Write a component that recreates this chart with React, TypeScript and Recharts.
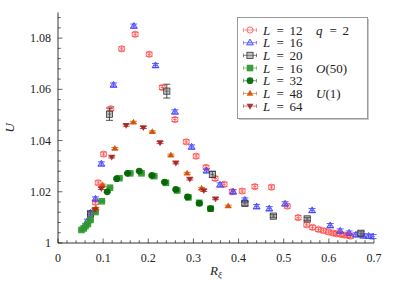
import React from 'react';
import { ScatterChart, Scatter, XAxis, YAxis, ErrorBar, Legend } from 'recharts';

const FONT = '"Liberation Serif", "DejaVu Serif", serif';

// ---- axis ticks ----
const xMajorTicks = [0, 0.1, 0.2, 0.3, 0.4, 0.5, 0.6, 0.7];
const xTickLabels = ['0', '0.1', '0.2', '0.3', '0.4', '0.5', '0.6', '0.7'];
const yMajorTicks = [1, 1.02, 1.04, 1.06, 1.08];
const yTickLabels = ['1', '1.02', '1.04', '1.06', '1.08'];
const xAllTicks = Array.from({ length: 36 }, (_, i) => +(i * 0.02).toFixed(2));
const yAllTicks = Array.from({ length: 23 }, (_, i) => +(1 + i * 0.004).toFixed(3));

// ---- legend text ----
const legendSizes = ['12', '16', '20', '16', '32', '48', '64'];
const legendGroups = ['q = 2', '', '', 'O(50)', '', 'U(1)', ''];

// ---- series: q = 2 ----
const q2L12X = [0.083, 0.089, 0.101, 0.117, 0.141, 0.171, 0.202, 0.231, 0.259, 0.284, 0.306, 0.328, 0.348, 0.368, 0.386, 0.408, 0.436, 0.473, 0.508, 0.532, 0.551, 0.564, 0.577, 0.588, 0.599, 0.609, 0.617, 0.626, 0.634, 0.642, 0.648];
const q2L12Y = [1.0159, 1.0235, 1.0347, 1.0524, 1.0758, 1.0815, 1.0737, 1.0607, 1.0482, 1.0395, 1.0339, 1.0295, 1.0252, 1.0229, 1.0200, 1.0203, 1.0220, 1.0218, 1.0144, 1.0099, 1.0071, 1.0061, 1.0053, 1.0048, 1.0043, 1.0039, 1.0036, 1.0034, 1.0031, 1.0030, 1.0027];
const q2L12E = 0.0008;

const q2L16X = [0.065, 0.072, 0.083, 0.096, 0.123, 0.168, 0.216, 0.259, 0.296, 0.329, 0.359, 0.388, 0.414, 0.440, 0.468, 0.503, 0.563, 0.603, 0.625, 0.645, 0.660, 0.676, 0.688, 0.698];
const q2L16Y = [1.0085, 1.0118, 1.0172, 1.0309, 1.0617, 1.0847, 1.0693, 1.0512, 1.0375, 1.0282, 1.0227, 1.0200, 1.0168, 1.0142, 1.0134, 1.0153, 1.0127, 1.0068, 1.0047, 1.0039, 1.0032, 1.0028, 1.0027, 1.0025];
const q2L16E = 0.0008;

const q2L20X = [0.072, 0.114, 0.241, 0.342, 0.414, 0.477, 0.552, 0.671];
const q2L20Y = [1.0113, 1.0503, 1.0593, 1.0268, 1.0155, 1.0105, 1.0094, 1.0038];
const q2L20E = [0.0008, 0.0024, 0.0027, 0.0012, 0.0008, 0.0006, 0.0006, 0.0008];

// ---- series: O(50) ----
const o50L16X = [0.052, 0.057, 0.061, 0.066, 0.072, 0.083, 0.097, 0.115, 0.136, 0.160, 0.185, 0.213, 0.239, 0.264, 0.289, 0.313, 0.338];
const o50L16Y = [1.0051, 1.0057, 1.0066, 1.0074, 1.0090, 1.0121, 1.0163, 1.0216, 1.0253, 1.0272, 1.0272, 1.0261, 1.0235, 1.0205, 1.0178, 1.0157, 1.0134];
const o50L16E = 0.0003;

const o50L32X = [0.109, 0.130, 0.154, 0.180, 0.208, 0.236, 0.261, 0.287, 0.313, 0.338];
const o50L32Y = [1.0200, 1.0251, 1.0272, 1.0281, 1.0264, 1.0238, 1.0209, 1.0180, 1.0155, 1.0134];
const o50L32E = 0.0003;

// ---- series: U(1) ----
const u1L48X = [0.084, 0.099, 0.126, 0.167, 0.209, 0.250, 0.286, 0.318, 0.377];
const u1L48Y = [1.0135, 1.0226, 1.0369, 1.0471, 1.0434, 1.0343, 1.0272, 1.0213, 1.0144];
const u1L48E = 0.0004;

const u1L64X = [0.082, 0.096, 0.119, 0.151, 0.189, 0.226, 0.261, 0.292, 0.323, 0.349];
const u1L64Y = [1.0131, 1.0213, 1.0336, 1.0460, 1.0451, 1.0392, 1.0313, 1.0250, 1.0205, 1.0173];
const u1L64E = 0.0004;

const X_ERR = 0.004;

type Kind = 'circle' | 'triOpen' | 'sqOpen' | 'sq' | 'dot' | 'triUp' | 'triDown';

const build = (xs: number[], ys: number[], e: number | number[]) =>
  xs.map((x, i) => ({ x, y: ys[i], ey: Array.isArray(e) ? e[i] : e, ex: X_ERR }));

const seriesList: { data: any[]; kind: Kind; color: string; bar: string }[] = [
  { data: build(q2L12X, q2L12Y, q2L12E), kind: 'circle', color: '#ff4646', bar: '#ff4646' },
  { data: build(q2L16X, q2L16Y, q2L16E), kind: 'triOpen', color: '#3a3aff', bar: '#3a3aff' },
  { data: build(q2L20X, q2L20Y, q2L20E), kind: 'sqOpen', color: '#333333', bar: '#222222' },
  { data: build(o50L16X, o50L16Y, o50L16E), kind: 'sq', color: '#2f972f', bar: '#2f972f' },
  { data: build(o50L32X, o50L32Y, o50L32E), kind: 'dot', color: '#006400', bar: '#006400' },
  { data: build(u1L48X, u1L48Y, u1L48E), kind: 'triUp', color: '#d05000', bar: '#d05000' },
  { data: build(u1L64X, u1L64Y, u1L64E), kind: 'triDown', color: '#a82222', bar: '#a82222' },
];

function Mark({ kind, cx, cy, color }: { kind: Kind; cx: number; cy: number; color: string }) {
  if (cx == null || cy == null) return null;
  switch (kind) {
    case 'circle':
      return <circle cx={cx} cy={cy} r={3.1} fill="rgba(255,90,90,0.08)" stroke={color} strokeWidth={0.9} strokeOpacity={0.85} />;
    case 'triOpen': {
      const s = 3.6;
      return (
        <polygon
          points={`${cx},${cy - s} ${cx + s * 0.95},${cy + s * 0.62} ${cx - s * 0.95},${cy + s * 0.62}`}
          fill="rgba(80,80,255,0.3)" stroke={color} strokeWidth={0.9} strokeOpacity={0.9}
        />
      );
    }
    case 'sqOpen':
      return <rect x={cx - 3.1} y={cy - 3.1} width={6.2} height={6.2} fill="rgba(120,120,120,0.45)" stroke={color} strokeWidth={0.8} />;
    case 'sq':
      return <rect x={cx - 3.3} y={cy - 3.3} width={6.6} height={6.6} fill={color} fillOpacity={0.92} />;
    case 'dot':
      return <circle cx={cx} cy={cy} r={3.4} fill={color} fillOpacity={0.92} />;
    case 'triUp': {
      const s = 3.6;
      return <polygon points={`${cx},${cy - s} ${cx + s * 0.95},${cy + s * 0.62} ${cx - s * 0.95},${cy + s * 0.62}`} fill={color} fillOpacity={0.9} />;
    }
    case 'triDown': {
      const s = 3.6;
      return <polygon points={`${cx},${cy + s} ${cx + s * 0.95},${cy - s * 0.62} ${cx - s * 0.95},${cy - s * 0.62}`} fill={color} fillOpacity={0.9} />;
    }
  }
  return null;
}

const near = (v: number, arr: number[]) => arr.findIndex((a) => Math.abs(a - v) < 1e-6);

const BottomTick = (props: any) => {
  const { x, y, payload } = props;
  const idx = near(payload.value, xMajorTicks);
  const major = idx >= 0;
  return (
    <g>
      <line x1={x} x2={x} y1={y} y2={y - (major ? 4.5 : 2.8)} stroke="#000" strokeWidth={0.6} />
      {major && (
        <text x={x} y={y + 18.5} textAnchor="middle" fontFamily={FONT} fontSize={12} fill="#222">
          {xTickLabels[idx]}
        </text>
      )}
    </g>
  );
};

const TopTick = (props: any) => {
  const { x, y, payload } = props;
  const major = near(payload.value, xMajorTicks) >= 0;
  return <line x1={x} x2={x} y1={y} y2={y + (major ? 4.5 : 2.8)} stroke="#000" strokeWidth={0.6} />;
};

const LeftTick = (props: any) => {
  const { x, y, payload } = props;
  const idx = near(payload.value, yMajorTicks);
  const major = idx >= 0;
  return (
    <g>
      <line x1={x} x2={x + (major ? 4.5 : 2.8)} y1={y} y2={y} stroke="#000" strokeWidth={0.6} />
      {major && (
        <text x={x - 7} y={y + 4} textAnchor="end" fontFamily={FONT} fontSize={12} fill="#222">
          {yTickLabels[idx]}
        </text>
      )}
    </g>
  );
};

const RightTick = (props: any) => {
  const { x, y, payload } = props;
  const major = near(payload.value, yMajorTicks) >= 0;
  return <line x1={x} x2={x - (major ? 4.5 : 2.8)} y1={y} y2={y} stroke="#000" strokeWidth={0.6} />;
};

const XLabel = (props: any) => {
  const vb = props.viewBox || { x: 58, y: 243, width: 316 };
  const cx = vb.x + vb.width / 2;
  return (
    <text x={cx - 6} y={vb.y + 32} fontFamily={FONT} fontSize={13} fill="#222">
      <tspan fontStyle="italic">R</tspan>
      <tspan fontSize={9} fontStyle="italic" dy={2.5}>ξ</tspan>
    </text>
  );
};

const YLabel = (props: any) => {
  const vb = props.viewBox || { x: 0, y: 12.5, width: 58, height: 230.5 };
  const cy = vb.y + vb.height / 2;
  const cx = 9.5;
  return (
    <text x={cx} y={cy} transform={`rotate(-90 ${cx} ${cy})`} textAnchor="middle" dy="0.35em" fontFamily={FONT} fontStyle="italic" fontSize={13} fill="#222">
      U
    </text>
  );
};

const LegendBox = () => {
  const rowH = 12.68;
  const W = 130;
  const H = 101;
  return (
    <svg width={W + 3} height={H + 3} style={{ display: 'block' }}>
      <rect x={2} y={2} width={W} height={H} fill="#c8c8c8" />
      <rect x={0.5} y={0.5} width={W} height={H} fill="#fff" stroke="#9a9a9a" strokeWidth={1} />
      {seriesList.map((s, i) => {
        const cy = 13 + i * rowH;
        const by = cy + 4.5;
        return (
          <g key={i}>
            <line x1={6.5} x2={19.5} y1={cy} y2={cy} stroke={s.bar} strokeWidth={0.7} strokeOpacity={0.8} />
            <line x1={6.5} x2={6.5} y1={cy - 1.8} y2={cy + 1.8} stroke={s.bar} strokeWidth={0.7} strokeOpacity={0.8} />
            <line x1={19.5} x2={19.5} y1={cy - 1.8} y2={cy + 1.8} stroke={s.bar} strokeWidth={0.7} strokeOpacity={0.8} />
            <Mark kind={s.kind} cx={13} cy={cy} color={s.color} />
            <text x={26} y={by} fontFamily={FONT} fontSize={13} fill="#222">
              <tspan fontStyle="italic">L</tspan>
              <tspan x={39.5}>=</tspan>
              <tspan x={52.5}>{legendSizes[i]}</tspan>
            </text>
            {legendGroups[i] === 'q = 2' && (
              <text x={79} y={by} fontFamily={FONT} fontSize={13} fill="#222">
                <tspan fontStyle="italic">q</tspan>
                <tspan x={92.5}>=</tspan>
                <tspan x={105.5}>2</tspan>
              </text>
            )}
            {legendGroups[i] === 'O(50)' && (
              <text x={79} y={by} fontFamily={FONT} fontSize={13} fill="#222">
                <tspan fontStyle="italic">O</tspan>(50)
              </text>
            )}
            {legendGroups[i] === 'U(1)' && (
              <text x={79} y={by} fontFamily={FONT} fontSize={13} fill="#222">
                <tspan fontStyle="italic">U</tspan>(1)
              </text>
            )}
          </g>
        );
      })}
    </svg>
  );
};

export default function App() {
  return (
    <div style={{ position: 'absolute', left: 0, top: 0, width: 395, height: 285, background: '#fff' }}>
      <ScatterChart width={395} height={285} margin={{ top: 12.5, right: 21, bottom: 0, left: 0 }}>
        <XAxis
          xAxisId="b"
          dataKey="x"
          type="number"
          domain={[0, 0.7]}
          ticks={xAllTicks}
          interval={0}
          tickSize={0}
          tickMargin={0}
          tickLine={false}
          tick={<BottomTick />}
          height={42}
          axisLine={{ stroke: '#000', strokeWidth: 0.8 }}
          label={<XLabel />}
          allowDataOverflow
        />
        <XAxis
          xAxisId="t"
          orientation="top"
          dataKey="x"
          type="number"
          domain={[0, 0.7]}
          ticks={xAllTicks}
          interval={0}
          tickSize={0}
          tickMargin={0}
          tickLine={false}
          tick={<TopTick />}
          height={0}
          axisLine={{ stroke: '#000', strokeWidth: 0.8 }}
          allowDataOverflow
        />
        <YAxis
          yAxisId="l"
          dataKey="y"
          type="number"
          domain={[1, 1.09]}
          ticks={yAllTicks}
          interval={0}
          tickSize={0}
          tickMargin={0}
          tickLine={false}
          tick={<LeftTick />}
          width={58}
          axisLine={{ stroke: '#000', strokeWidth: 0.8 }}
          label={<YLabel />}
          allowDataOverflow
        />
        <YAxis
          yAxisId="r"
          orientation="right"
          dataKey="y"
          type="number"
          domain={[1, 1.09]}
          ticks={yAllTicks}
          interval={0}
          tickSize={0}
          tickMargin={0}
          tickLine={false}
          tick={<RightTick />}
          width={0}
          axisLine={{ stroke: '#000', strokeWidth: 0.8 }}
          allowDataOverflow
        />
        <Legend
          layout="horizontal"
          verticalAlign="middle"
          align="center"
          wrapperStyle={{ left: 237, top: 17, width: 133, height: 104 }}
          content={() => <LegendBox />}
        />
        {seriesList.map((s, i) => (
          <Scatter
            key={i}
            xAxisId="b"
            yAxisId="l"
            data={s.data}
            dataKey="y"
            fill={s.color}
            isAnimationActive={false}
            shape={(p: any) => <Mark kind={s.kind} cx={p.cx} cy={p.cy} color={s.color} />}
          >
            <ErrorBar dataKey="ey" direction="y" width={3.5} stroke={s.bar} strokeWidth={0.8} isAnimationActive={false} />
            <ErrorBar dataKey="ex" direction="x" width={0} stroke={s.bar} strokeWidth={0.7} isAnimationActive={false} />
          </Scatter>
        ))}
      </ScatterChart>
    </div>
  );
}
